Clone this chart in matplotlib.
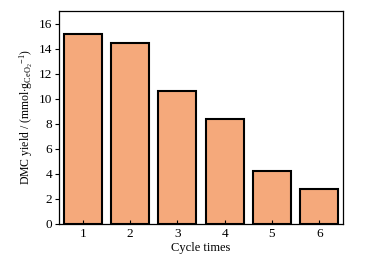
import matplotlib
matplotlib.use("Agg")
import matplotlib.pyplot as plt

cycles = [1, 2, 3, 4, 5, 6]
yields = [15.2, 14.45, 10.6, 8.4, 4.2, 2.8]

plt.rcParams['font.family'] = ['Liberation Serif', 'DejaVu Serif']
plt.rcParams['mathtext.fontset'] = 'custom'
plt.rcParams['mathtext.rm'] = 'Liberation Serif'
plt.rcParams['mathtext.it'] = 'Liberation Serif:italic'

fig = plt.figure(figsize=(3.65, 2.58), dpi=100)
ax = fig.add_axes([59 / 365, 1 - 224 / 258, (343 - 59) / 365, (224 - 11) / 258])

ax.bar(cycles, yields, width=0.8, color='#F5A97B', edgecolor='black', linewidth=1.5)

ax.set_xlim(0.5, 6.5)
ax.set_ylim(0, 17)
ax.set_xticks(cycles)
ax.set_yticks(range(0, 17, 2))
ax.tick_params(axis='x', direction='in', length=3, width=0.8, labelsize=9.5, pad=3)
ax.tick_params(axis='y', direction='out', length=3, width=0.8, labelsize=9.5, pad=2)
for s in ax.spines.values():
    s.set_linewidth(0.9)

ax.set_xlabel('Cycle times', fontsize=9, labelpad=1)
ax.set_ylabel(r'DMC yield / (mmol$\cdot$g$_{\mathrm{CeO_2}}$$^{-1}$)', fontsize=8.5, labelpad=3)

fig.savefig('out.png', dpi=100)
